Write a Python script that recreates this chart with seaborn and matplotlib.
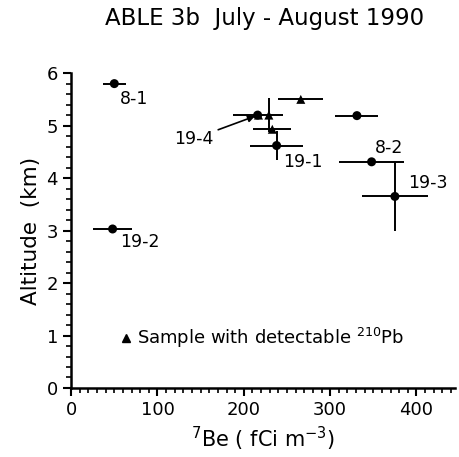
import numpy as np
import pandas as pd
import matplotlib.pyplot as plt
import seaborn as sns
from matplotlib.ticker import MultipleLocator

# 7Be concentration vs altitude, ABLE 3b samples
be7 = [50, 48, 216, 217, 229, 266, 331, 233, 238, 348, 375]
altitude = [5.80, 3.03, 5.20, 5.20, 5.20, 5.50, 5.19, 4.93, 4.62, 4.31, 3.65]
be7_err = [13, 23, 29, 0, 0, 26, 25, 22, 31, 38, 38]
alt_err = [0, 0, 0, 0, 0.32, 0, 0, 0, 0.28, 0, 0.65]
pb210 = ["no", "no", "no", "yes", "yes", "yes", "no", "yes", "no", "no", "no"]

# flight labels
flight_names = ["8-1", "19-2", "19-1", "8-2", "19-3"]
flight_x = [57, 57, 246, 352, 390]
flight_y = [5.50, 2.79, 4.31, 4.58, 3.91]

df = pd.DataFrame({"be7": be7, "alt": altitude, "xerr": be7_err,
                   "yerr": alt_err, "pb": pb210})

sns.set_style("ticks")
plt.rcParams["font.family"] = ["DejaVu Sans"]
plt.rcParams["text.color"] = "black"
plt.rcParams["axes.labelcolor"] = "black"

fig = plt.figure(figsize=(4.59, 4.57), dpi=100)
ax = fig.add_axes([0.155, 0.151, 0.837, 0.689])

ax.errorbar(df["be7"], df["alt"], xerr=df["xerr"], yerr=df["yerr"],
            fmt="none", ecolor="black", elinewidth=1.4, capsize=0)
sns.scatterplot(data=df, x="be7", y="alt", style="pb",
                markers={"no": "o", "yes": "^"}, color="black", s=42,
                edgecolor="black", linewidth=0, legend=False, ax=ax, zorder=3)

for name, tx, ty in zip(flight_names, flight_x, flight_y):
    ax.text(tx, ty, name, fontsize=12.5, ha="left", va="center")

ax.annotate("19-4", xy=(213, 5.18), xytext=(165, 4.75), fontsize=12.5,
            ha="right", va="center",
            arrowprops=dict(arrowstyle="-|>", color="black", lw=1.2,
                            shrinkA=1, shrinkB=0, mutation_scale=10))

# legend drawn as plain text
ax.plot([63], [0.95], marker="^", color="black", markersize=6, linestyle="none")
ax.text(76, 0.95, "Sample with detectable $^{210}$Pb", fontsize=13,
        ha="left", va="center")

ax.set_xlim(0, 445)
ax.set_ylim(0, 6)
ax.xaxis.set_major_locator(MultipleLocator(100))
ax.xaxis.set_minor_locator(MultipleLocator(10))
ax.yaxis.set_major_locator(MultipleLocator(1))
ax.yaxis.set_minor_locator(MultipleLocator(0.2))
ax.tick_params(which="major", length=6, width=1.5, labelsize=13,
               color="black", labelcolor="black")
ax.tick_params(which="minor", length=3.5, width=1.2, color="black")
for side in ["left", "bottom"]:
    ax.spines[side].set_linewidth(1.8)
    ax.spines[side].set_color("black")
sns.despine(ax=ax)

ax.set_xlabel("$^{7}$Be ( fCi m$^{-3}$)", fontsize=15)
ax.set_ylabel("Altitude  (km)", fontsize=15.5)
fig.text(0.577, 0.96, "ABLE 3b  July - August 1990", fontsize=16.5,
         ha="center", va="center")

plt.savefig("out.png", dpi=100)
